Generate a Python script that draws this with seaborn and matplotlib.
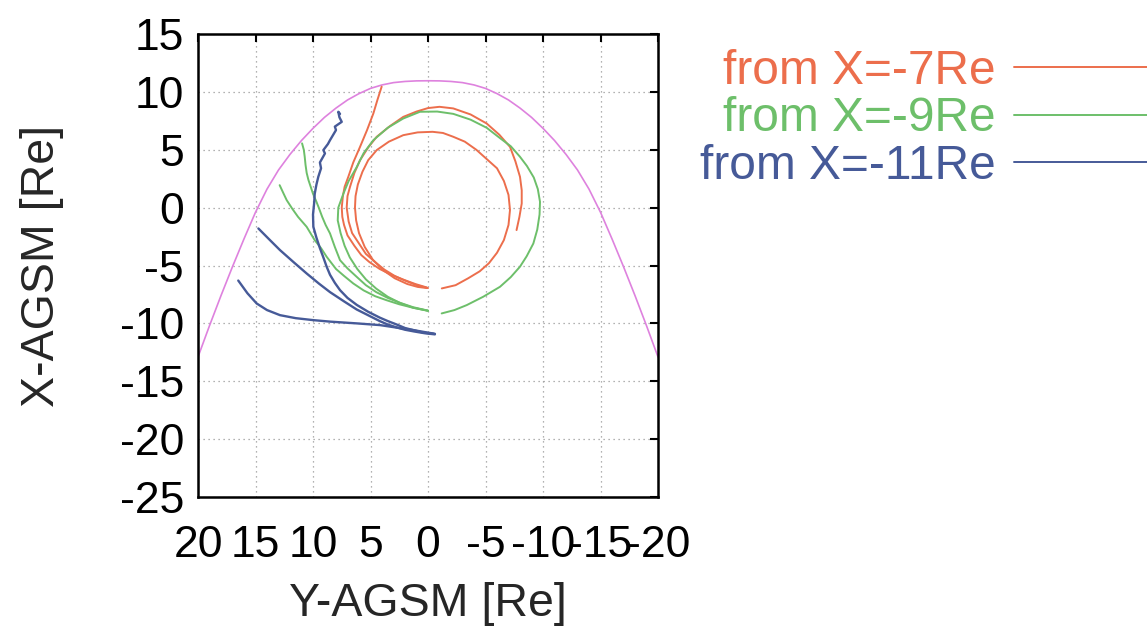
import matplotlib
matplotlib.use("Agg")
import matplotlib.pyplot as plt
import seaborn as sns
import pandas as pd
from matplotlib.lines import Line2D

# ---------------- data (Y-AGSM, X-AGSM) ----------------
mp_y = [20, 19, 18, 17, 16, 15, 14, 13, 12, 11, 10, 9, 8, 7, 6, 5, 4, 3, 2, 1, 0,
        -1, -2, -3, -4, -5, -6, -7, -8, -9, -10, -11, -12, -13, -14, -15, -16, -17, -18, -19, -20]
mp_x = [-12.9, -10.2, -7.6, -5.1, -2.7, -0.4, 1.6, 3.25, 4.6, 5.8, 6.85, 7.8, 8.6, 9.3, 9.85, 10.3, 10.6, 10.8, 10.9, 10.95, 10.96,
        10.95, 10.9, 10.8, 10.6, 10.3, 9.85, 9.3, 8.6, 7.8, 6.85, 5.8, 4.6, 3.25, 1.6, -0.4, -2.7, -5.1, -7.6, -10.2, -12.9]

# from X=-7Re
or1_y = [-1.2, -2.4, -3.5, -4.5, -5.3, -6.0, -6.6, -7.0, -7.13, -7.0, -6.6, -6.0, -5.1, -4.2, -3.2, -2.2, -1.3, -0.4, 0.9, 2.15,
         3.4, 4.46, 5.2, 5.7, 6.1, 6.3, 6.35, 6.25, 6.0, 5.5, 4.8, 3.9, 2.9, 1.8, 0.9, 0.1]
or1_x = [-6.98, -6.7, -6.1, -5.5, -4.8, -3.9, -2.8, -1.5, -0.2, 1.1, 2.3, 3.4, 4.2, 5.0, 5.7, 6.12, 6.45, 6.55, 6.5, 6.26,
         5.7, 4.97, 4.1, 3.1, 2.0, 1.0, 0.0, -1.1, -2.2, -3.4, -4.5, -5.4, -6.1, -6.6, -6.85, -6.95]
or2_y = [0.0, 1.0, 2.0, 2.9, 3.8, 4.6, 5.4, 6.0, 6.6, 6.9, 7.07, 7.0, 6.78, 6.4, 5.91, 5.2, 4.46, 3.3, 2.15, 1.0, 0.0, -1.0,
         -2.2, -3.7, -5.1, -6.2, -7.13, -7.6, -8.0, -8.15, -8.15, -7.95, -7.7]
or2_x = [-6.95, -6.7, -6.3, -5.9, -5.35, -4.7, -4.0, -3.1, -2.2, -1.2, 0.0, 1.0, 1.8, 3.0, 4.1, 5.2, 6.12, 7.05, 7.84, 8.3, 8.6, 8.71,
         8.57, 8.05, 7.27, 6.3, 5.25, 4.0, 2.66, 1.5, 0.36, -0.8, -1.94]
or3_y = [0.1, 1.1, 2.2, 3.2, 4.2, 5.1, 5.8, 6.4, 7.0, 7.3, 7.45, 7.5, 7.4, 7.25, 6.93, 6.5, 5.91, 5.3, 4.75, 4.4, 4.03]
or3_x = [-6.9, -6.6, -6.2, -5.8, -5.3, -4.7, -4.1, -3.3, -2.4, -1.5, -0.8, 0.0, 1.0, 1.8, 2.66, 3.9, 5.25, 6.7, 8.14, 9.3, 10.45]

# from X=-9Re
gr1_y = [-1.19, -2.3, -3.37, -4.8, -6.26, -7.2, -8.0, -8.58, -9.16, -9.5, -9.7, -9.74, -9.55, -9.2, -8.6, -8.0, -7.2, -6.2,
         -5.1, -3.7, -2.2, -0.8, 0.7, 2.15, 3.5, 4.75, 5.6, 6.2, 6.9, 7.36, 7.8, 7.85, 7.6, 7.25, 6.8, 6.15, 5.4, 4.5, 3.5,
         2.4, 1.3, 0.0]
gr1_x = [-9.14, -8.85, -8.42, -7.7, -6.84, -6.0, -5.1, -4.2, -3.1, -1.9, -0.6, 0.5, 1.6, 2.6, 3.6, 4.39, 5.3, 6.05,
         6.9, 7.6, 8.1, 8.3, 8.28, 7.7, 6.9, 5.83, 4.7, 3.5, 2.3, 1.2, 0.0, -1.1, -2.2, -3.3, -4.3, -5.3, -6.2, -7.0, -7.7,
         -8.25, -8.65, -8.92]
gr2_y = [0.0, 1.3, 2.5, 3.5, 4.5, 5.4, 6.2, 7.0, 7.65, 8.1, 8.52, 8.9, 9.2, 9.5, 9.7, 10.0, 10.2, 10.4, 10.55, 10.65,
         10.72, 10.8, 10.95]
gr2_x = [-8.9, -8.6, -8.2, -7.8, -7.3, -6.7, -5.98, -5.25, -4.54, -3.4, -2.23, -1.5, -0.8, 0.0, 0.5, 1.2, 1.8, 2.4, 3.0, 3.7,
         4.39, 5.0, 5.55]
gr3_y = [0.0, 1.3, 2.5, 3.6, 4.6, 5.6, 6.5, 7.3, 8.0, 8.81, 9.3, 9.86, 10.55, 11.3, 11.8, 12.29, 12.6, 12.9]
gr3_x = [-8.9, -8.65, -8.35, -8.0, -7.65, -7.15, -6.55, -5.9, -5.3, -4.25, -3.5, -2.8, -1.66, -0.8, -0.1, 0.65, 1.3, 1.94]

# from X=-11Re
bl1_y = [-0.5, 0.4, 1.2, 2.0, 2.72, 3.5, 4.2, 5.2, 6.2, 7.0, 7.65, 8.1, 8.52, 8.81, 9.1, 9.4, 9.7, 9.97, 10.0, 9.9,
         9.85, 9.7, 9.54, 9.3, 9.4, 8.96, 9.1, 8.7, 8.52, 8.0, 8.1, 7.5, 7.7, 7.8, 7.65]
bl1_x = [-10.9, -10.8, -10.6, -10.4, -10.1, -9.8, -9.5, -9.0, -8.4, -7.8, -7.13, -6.5, -5.8, -5.11, -4.3, -3.5, -2.6, -1.66, -0.6, 0.4,
         1.2, 2.0, 2.66, 3.4, 3.9, 4.68, 4.97, 5.5, 5.83, 6.7, 7.0, 7.41, 7.8, 8.28, 8.1]
bl2_y = [-0.6, 0.3, 1.2, 2.0, 2.72, 3.5, 4.2, 5.2, 6.2, 7.3, 8.52, 9.5, 10.55, 11.7, 12.87, 13.8, 14.75]
bl2_x = [-10.95, -10.85, -10.7, -10.55, -10.35, -10.1, -9.8, -9.3, -8.8, -8.1, -7.3, -6.55, -5.69, -4.7, -3.67, -2.75, -1.8]
bl3_y = [-0.6, 0.3, 1.28, 2.5, 4.17, 6.2, 8.5, 9.97, 11.5, 12.87, 14.0, 14.9, 15.7, 16.5]
bl3_x = [-10.9, -10.75, -10.58, -10.4, -10.15, -10.0, -9.85, -9.72, -9.55, -9.29, -8.85, -8.28, -7.4, -6.3]

labels = ["from X=-7Re", "from X=-9Re", "from X=-11Re"]
colors = ["#EC6E4C", "#6DBF6A", "#465A98"]
mp_color = "#DE82DE"

groups = [
    (labels[0], [(or1_y, or1_x), (or2_y, or2_x), (or3_y, or3_x)]),
    (labels[1], [(gr1_y, gr1_x), (gr2_y, gr2_x), (gr3_y, gr3_x)]),
    (labels[2], [(bl1_y, bl1_x), (bl2_y, bl2_x), (bl3_y, bl3_x)]),
]
rows = []
for g, curves in groups:
    for i, (yy, xx) in enumerate(curves):
        for k, (a, b) in enumerate(zip(yy, xx)):
            rows.append({"Y": a, "X": b, "group": g, "curve": f"{g}-{i}", "k": k})
df = pd.DataFrame(rows)
mp_df = pd.DataFrame({"Y": mp_y, "X": mp_x})

# ---------------- style ----------------
sns.set_style("white")
plt.rcParams['font.family'] = ['Liberation Sans', 'DejaVu Sans']
plt.rcParams['axes.unicode_minus'] = False

W, H = 1147, 641
fig = plt.figure(figsize=(W / 100, H / 100), dpi=100)
ax = fig.add_axes([198 / W, 1 - 497 / H, 460 / W, 463 / H])

sns.lineplot(data=mp_df, x="Y", y="X", sort=False, estimator=None, color=mp_color, lw=1.2, ax=ax)
for (g, _), c in zip(groups, colors):
    sub = df[df["group"] == g]
    sns.lineplot(data=sub, x="Y", y="X", units="curve", estimator=None, sort=False,
                 color=c, lw=1.7 if g == labels[2] else 1.4, ax=ax, legend=False)

ax.set_xlim(20, -20)
ax.set_ylim(-25, 15)
ax.set_xticks(range(20, -21, -5))
ax.set_yticks(range(-25, 16, 5))
ax.grid(True, linestyle=(0, (1, 3)), color="#999999", lw=0.9)
for s in ax.spines.values():
    s.set_color("black")
    s.set_linewidth(1.8)
ax.tick_params(direction="in", length=6, width=1.5, top=True, right=True,
               labelsize=32, colors="black", pad=10)
ax.tick_params(axis="x", pad=20)
ax.set_xlabel("Y-AGSM [Re]", fontsize=33.5, labelpad=12)
ax.set_ylabel("X-AGSM [Re]", fontsize=33.5, labelpad=40)

handles = [Line2D([], [], color=c, lw=1.4) for c in colors]
ax.legend(handles, labels, loc="center right", bbox_to_anchor=(1.018, 0.8144),
          bbox_transform=fig.transFigure, frameon=False, markerfirst=False,
          handlelength=3.2, handletextpad=0.38, labelspacing=0.05, fontsize=34.5,
          labelcolor="linecolor", borderpad=0, borderaxespad=0)

fig.savefig("out.png", dpi=100)
